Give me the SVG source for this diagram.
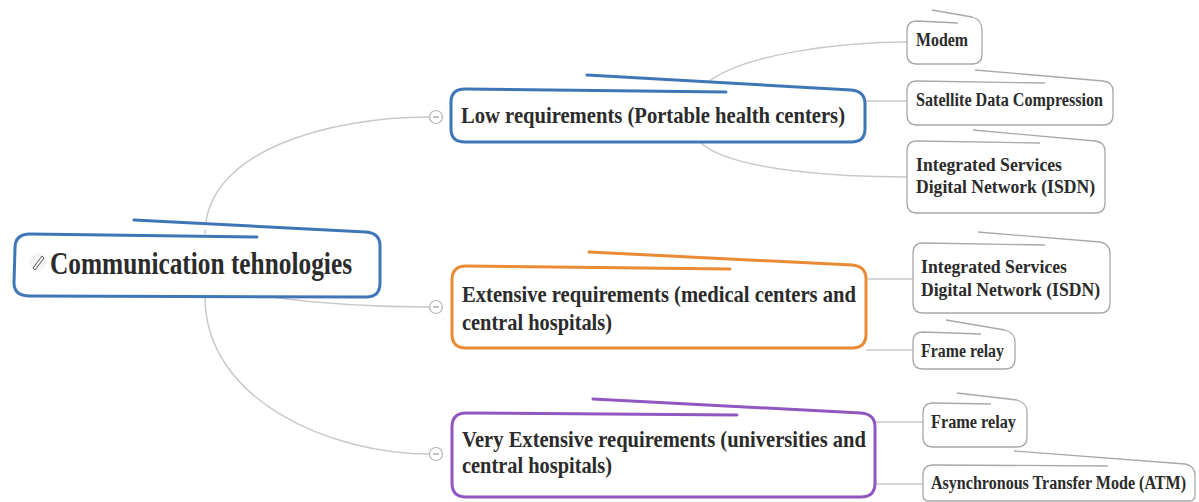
<svg xmlns="http://www.w3.org/2000/svg" width="1199" height="502" viewBox="0 0 1199 502">
<style>
text{font-family:"Liberation Serif","Times New Roman",serif;font-weight:bold;fill:#2b2b2b}
.big{font-size:31px}
.mid{font-size:24px}
.sm{font-size:18.5px}
.leaf{fill:#fff;stroke:#a9a9a9;stroke-width:1.3}
.con{fill:none;stroke:#c9c9c9;stroke-width:1.5}
.tog{fill:#fff;stroke:#b5b5b5;stroke-width:1.2}
</style>
<rect width="1199" height="502" fill="#fff"/>
<g id="connectors">
<path class="con" d="M205,234 C205,150 330,117 430,117"/>
<path class="con" d="M270,297 C330,305 380,307 430,307"/>
<path class="con" d="M205,297 C205,400 330,454 430,454"/>
<path class="con" d="M700,89 C735,52 850,42 907,42"/>
<path class="con" d="M865,101 L907,101"/>
<path class="con" d="M700,142 C730,172 850,177 907,177"/>
<path class="con" d="M866,279 L913,279"/>
<path class="con" d="M866,350 L913,350"/>
<path class="con" d="M875,422 L923,422"/>
<path class="con" d="M875,484 L923,484"/>
</g>
<g id="central">
<path d="M257,237 L30,234 Q15,234 15,248 L14,283 Q14,296 30,296 L366,297 Q380,297 380,283 L380,246 Q380,233 366,232 L134,220" fill="#fff" stroke="#3f76b8" stroke-width="3" stroke-linejoin="round" stroke-linecap="round"/>
<circle cx="38" cy="262" r="9" fill="#f4f4f4"/>
<path d="M33,268 L42,256 L44,258 L35,270 Z" fill="#fff" stroke="#555" stroke-width="1"/>
<text class="big" x="50" y="274" textLength="302" lengthAdjust="spacingAndGlyphs">Communication tehnologies</text>
</g>
<g id="low">
<circle class="tog" cx="436" cy="117" r="6.5"/><path d="M433,117 H439" stroke="#999" stroke-width="1.2"/>
<path d="M726,92 L465,89 Q451,89 451,102 L451,129 Q451,142 465,142 L851,142 Q865,142 865,129 L865,104 Q865,91 851,90 L587,75" fill="#fff" stroke="#3f76b8" stroke-width="3" stroke-linejoin="round" stroke-linecap="round"/>
<text class="mid" x="461" y="123" textLength="384" lengthAdjust="spacingAndGlyphs">Low requirements (Portable health centers)</text>
</g>
<g id="extensive">
<circle class="tog" cx="436" cy="307" r="6.5"/><path d="M433,307 H439" stroke="#999" stroke-width="1.2"/>
<path d="M730,269 L466,266 Q452,266 452,280 L452,334 Q452,348 466,348 L852,348 Q866,348 866,334 L866,279 Q866,266 852,265 L589,252" fill="#fff" stroke="#e98a37" stroke-width="3" stroke-linejoin="round" stroke-linecap="round"/>
<text class="mid" x="462" y="302" textLength="394" lengthAdjust="spacingAndGlyphs">Extensive requirements (medical centers and</text>
<text class="mid" x="462" y="330" textLength="150" lengthAdjust="spacingAndGlyphs">central hospitals)</text>
</g>
<g id="veryextensive">
<circle class="tog" cx="436" cy="454" r="6.5"/><path d="M433,454 H439" stroke="#999" stroke-width="1.2"/>
<path d="M737,415 L466,413 Q452,413 452,427 L452,483 Q452,497 466,497 L861,497 Q875,497 875,483 L875,427 Q875,414 861,413 L593,399" fill="#fff" stroke="#9057c0" stroke-width="3" stroke-linejoin="round" stroke-linecap="round"/>
<text class="mid" x="462" y="447" textLength="404" lengthAdjust="spacingAndGlyphs">Very Extensive requirements (universities and</text>
<text class="mid" x="462" y="473" textLength="150" lengthAdjust="spacingAndGlyphs">central hospitals)</text>
</g>
<g id="modem">
<path class="leaf" d="M958,23 L917,21 Q907,21 907,31 L907,54 Q907,64 917,64 L972,64 Q982,64 982,54 L982,30 Q982,20 972,17 L932,10"/>
<text class="sm" x="916" y="46" textLength="52" lengthAdjust="spacingAndGlyphs">Modem</text>
</g>
<g id="satellite">
<path class="leaf" d="M1045,83 L917,81 Q907,81 907,91 L907,115 Q907,125 917,125 L1103,125 Q1113,125 1113,115 L1113,91 Q1113,82 1103,81 L975,70"/>
<text class="sm" x="916" y="106" textLength="187" lengthAdjust="spacingAndGlyphs">Satellite Data Compression</text>
</g>
<g id="isdn1">
<path class="leaf" d="M1040,143 L917,141 Q907,141 907,151 L907,203 Q907,213 917,213 L1095,213 Q1105,213 1105,203 L1105,151 Q1105,142 1095,141 L973,130"/>
<text class="sm" x="916" y="171" textLength="146" lengthAdjust="spacingAndGlyphs">Integrated Services</text>
<text class="sm" x="916" y="193" textLength="179" lengthAdjust="spacingAndGlyphs">Digital Network (ISDN)</text>
</g>
<g id="isdn2">
<path class="leaf" d="M1045,245 L923,243 Q913,243 913,253 L913,303 Q913,313 923,313 L1100,313 Q1110,313 1110,303 L1110,253 Q1110,244 1100,242 L978,232"/>
<text class="sm" x="921" y="273" textLength="146" lengthAdjust="spacingAndGlyphs">Integrated Services</text>
<text class="sm" x="921" y="296" textLength="179" lengthAdjust="spacingAndGlyphs">Digital Network (ISDN)</text>
</g>
<g id="framerelay1">
<path class="leaf" d="M981,334 L923,332 Q913,332 913,342 L913,359 Q913,369 923,369 L1005,369 Q1015,369 1015,359 L1015,342 Q1015,333 1005,330 L946,320"/>
<text class="sm" x="921" y="357" textLength="83" lengthAdjust="spacingAndGlyphs">Frame relay</text>
</g>
<g id="framerelay2">
<path class="leaf" d="M991,404 L933,403 Q923,403 923,413 L923,437 Q923,447 933,447 L1017,447 Q1027,447 1027,437 L1027,412 Q1027,403 1017,400 L957,393"/>
<text class="sm" x="931" y="428" textLength="85" lengthAdjust="spacingAndGlyphs">Frame relay</text>
</g>
<g id="atm">
<path class="leaf" d="M1108,466 L933,465 Q923,465 923,475 L923,495 Q923,501 929,501 L1189,501 Q1195,501 1195,495 L1195,475 Q1195,466 1185,464 L1014,451"/>
<text class="sm" x="931" y="489" textLength="255" lengthAdjust="spacingAndGlyphs">Asynchronous Transfer Mode (ATM)</text>
</g>
</svg>
